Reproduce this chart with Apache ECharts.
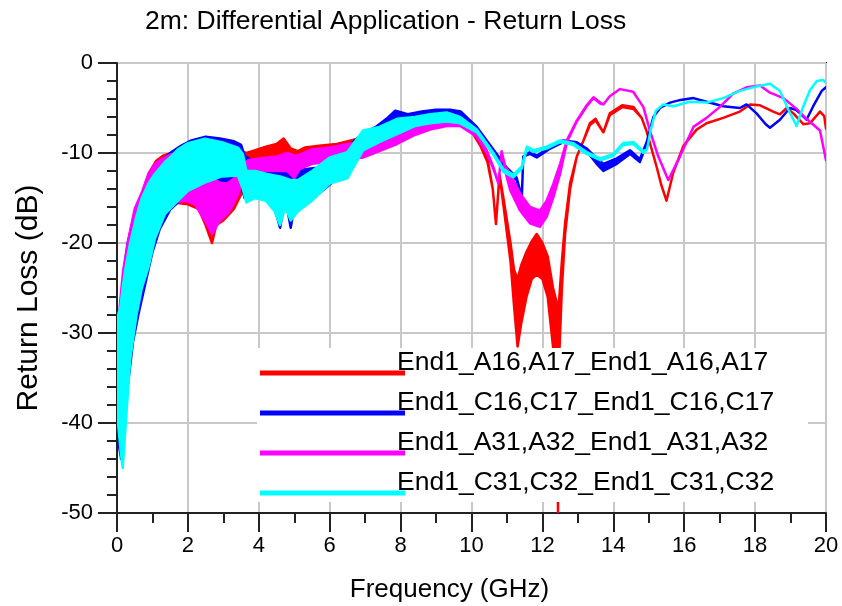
<!DOCTYPE html>
<html><head><meta charset="utf-8">
<script src="https://cdn.jsdelivr.net/npm/echarts@6/dist/echarts.min.js"></script>
<style>html,body{margin:0;padding:0;background:#fff}#c{width:842px;height:606px}</style>
</head><body><div id="c"></div>
<script>
const chartTitle = '2m: Differential Application - Return Loss';
const xName = 'Frequency (GHz)';
const yName = 'Return Loss (dB)';
const seriesNames = ['End1_A16,A17_End1_A16,A17','End1_C16,C17_End1_C16,C17','End1_A31,A32_End1_A31,A32','End1_C31,C32_End1_C31,C32'];
const seriesColors = ['#ff0000','#0000ff','#ff00ff','#00ffff'];

// [frequency GHz, upper envelope dB, lower envelope dB]
const redA16 = [[0.03,-31,-40],[0.15,-25,-42],[0.3,-20.5,-33],[0.5,-16.6,-26],[0.7,-14.6,-23],[0.9,-12.2,-20],[1.1,-10.9,-18],[1.3,-10.3,-16.5],[1.6,-9.9,-15.5],[2.0,-9.5,-15.7],[2.3,-9.3,-16.2],[2.5,-9.2,-18],[2.68,-9.2,-20],[2.8,-9.3,-18],[3.0,-9.4,-17.5],[3.3,-9.6,-16.2],[3.5,-9.8,-14.6],[3.65,-10,-12.5],[3.9,-9.7,-12],[4.2,-9.3,-11.8],[4.5,-9.0,-11.8],[4.7,-8.4,-12.2],[4.9,-9.5,-12],[5.1,-9.8,-12.8],[5.3,-9.4,-11],[5.7,-9.2,-10.8],[6.2,-9.0,-10.6],[6.6,-8.6,-10.4],[7.0,-8.2,-9.8],[7.5,-7.6,-9.2],[8.0,-7.2,-8.6],[8.5,-6.6,-7.6],[9.0,-6.2,-7.0],[9.4,-6.0,-6.7],[9.8,-6.3,-6.9],[10.0,-7.1,-7.6],[10.25,-8.8,-9.2],[10.45,-10.6,-11],[10.6,-14,-14],[10.69,-17.9,-17.9],[10.79,-12.4,-12.4],[10.9,-15,-15.8],[11.1,-20,-22],[11.2,-23,-27],[11.3,-24,-31.5],[11.4,-22.5,-29],[11.55,-21,-26],[11.7,-19.8,-24],[11.84,-19,-23.5],[12.0,-20,-24],[12.15,-21.5,-26],[12.3,-25,-31.5],[12.43,-27,-36],[12.44,-28,-50],[12.46,-27,-34],[12.55,-22,-25],[12.64,-17.8,-19],[12.78,-13.4,-14],[12.97,-10.4,-10.4],[13.16,-8.6,-8.6],[13.34,-6.7,-6.9],[13.5,-6.2,-6.4],[13.72,-7.7,-7.7],[13.9,-5.6,-5.8],[14.25,-4.7,-4.9],[14.57,-4.9,-5.1],[14.8,-6.1,-6.1],[14.94,-7.6,-7.6],[15.22,-11.5,-11.5],[15.35,-13.5,-13.5],[15.5,-15.3,-15.3],[15.69,-12.2,-12.2],[15.98,-9.2,-9.2],[16.35,-7.4,-7.4],[16.63,-6.7,-6.7],[17.1,-6.1,-6.1],[17.57,-5.4,-5.4],[17.86,-4.6,-4.6],[18.14,-4.7,-4.7],[18.51,-5.4,-5.4],[18.7,-5.7,-5.7],[18.89,-5.0,-5.0],[19.08,-5.6,-5.6],[19.36,-6.8,-6.8],[19.55,-6.7,-6.7],[19.83,-5.4,-5.4],[19.95,-5.9,-5.9],[20.0,-7.3,-7.3]];

const blueC16 = [[0.03,-30,-42],[0.12,-28,-44],[0.2,-23,-40],[0.3,-20,-36],[0.45,-17.5,-31],[0.6,-15.8,-28],[0.8,-13.8,-24.5],[1.0,-12.2,-21],[1.2,-11,-18.5],[1.5,-10,-16.3],[1.8,-9.2,-15.2],[2.1,-8.6,-14.4],[2.5,-8.2,-13.7],[2.9,-8.4,-13.2],[3.3,-8.7,-13],[3.5,-9.1,-13.6],[3.6,-10.3,-15],[3.8,-10.8,-14.5],[4.1,-10.8,-14.5],[4.4,-11,-15.5],[4.6,-11.2,-18.3],[4.75,-11.5,-15],[4.9,-11.3,-18.3],[5.05,-11.6,-15],[5.3,-11.8,-15.3],[5.7,-11.6,-14.5],[6.0,-11.2,-13.5],[6.3,-10,-12.5],[6.6,-9,-11.5],[6.9,-7.9,-9.8],[7.3,-7.1,-8.6],[7.6,-6.2,-7.6],[7.85,-5.3,-7.2],[8.2,-5.7,-6.6],[8.6,-5.4,-6.2],[9.0,-5.2,-5.9],[9.4,-5.2,-5.8],[9.7,-5.4,-6.0],[10.15,-7.1,-7.5],[10.43,-8.6,-8.9],[10.71,-10.1,-10.4],[10.99,-11.6,-11.9],[11.27,-12.7,-13],[11.42,-14.9,-14.9],[11.46,-10.4,-10.4],[11.65,-9.9,-10.1],[11.84,-10.3,-10.5],[12.22,-9.3,-9.5],[12.59,-8.6,-8.8],[12.97,-8.8,-9.0],[13.25,-9.5,-9.8],[13.53,-10.6,-11.2],[13.72,-11.2,-12],[14.1,-10.6,-11.2],[14.47,-9.7,-10.1],[14.75,-10.7,-11.0],[14.94,-8.8,-9.0],[15.13,-6,-6],[15.32,-5,-5],[15.6,-4.4,-4.4],[15.9,-4.1,-4.1],[16.26,-3.9,-3.9],[16.63,-4.3,-4.3],[17.1,-4.8,-4.8],[17.57,-5.0,-5.0],[17.76,-4.6,-4.6],[18.04,-5.6,-5.6],[18.3,-6.8,-6.8],[18.42,-7.2,-7.2],[18.7,-6.3,-6.3],[18.98,-5.0,-5.0],[19.15,-5.2,-5.2],[19.27,-5.6,-5.6],[19.45,-6.3,-6.3],[19.64,-4.8,-4.8],[19.88,-3.1,-3.1],[20.0,-2.7,-2.7]];

const magentaA31 = [[0.03,-29,-40],[0.17,-23.2,-43],[0.31,-19.8,-35],[0.5,-16.2,-28],[0.7,-14.4,-24],[0.88,-12.4,-21.5],[1.07,-11.2,-18.5],[1.3,-10.6,-16.5],[1.55,-10.1,-15.5],[1.92,-10,-15.3],[2.2,-10.2,-15.7],[2.48,-11,-17.5],[2.68,-12.8,-19],[2.9,-13.3,-17.5],[3.1,-13.4,-16.8],[3.24,-13,-16],[3.41,-12.5,-14.6],[3.55,-11.3,-13],[3.7,-10.8,-12.3],[4.0,-10.6,-12],[4.5,-10.4,-12],[4.8,-10,-12],[5.0,-10.3,-12.8],[5.15,-10.2,-11.8],[5.5,-9.6,-11.2],[6.0,-9.4,-11],[6.5,-9.0,-10.7],[6.94,-8.8,-10.5],[7.4,-8.2,-9.8],[7.9,-7.3,-9.0],[8.4,-6.6,-8.0],[8.83,-6.2,-7.4],[9.3,-6.0,-7.0],[9.68,-6.3,-7.0],[10.15,-7.8,-8.2],[10.43,-9.7,-10],[10.62,-11.6,-11.8],[10.76,-13.4,-13.4],[10.85,-9.8,-9.8],[10.95,-11.5,-12],[11.09,-12.3,-14.1],[11.37,-14.5,-16.4],[11.65,-16,-17.8],[11.93,-16.4,-18.2],[12.12,-15.3,-17.1],[12.31,-13.4,-14.9],[12.5,-11.2,-12.3],[12.69,-8.6,-8.8],[12.97,-6.4,-6.5],[13.25,-4.7,-4.8],[13.44,-3.8,-3.9],[13.63,-4.4,-4.5],[13.72,-4.6,-4.6],[13.9,-3.7,-3.7],[14.19,-2.9,-2.9],[14.56,-3.2,-3.2],[14.85,-4.9,-4.9],[15.03,-7.5,-7.5],[15.27,-10.4,-10.4],[15.55,-13,-13],[15.88,-10.4,-10.4],[16.26,-7.1,-7.1],[16.63,-6.1,-6.1],[17.0,-4.9,-4.9],[17.38,-3.4,-3.4],[17.76,-2.7,-2.7],[18.14,-2.5,-2.5],[18.42,-3.3,-3.3],[18.8,-3.9,-3.9],[19.17,-5.1,-5.1],[19.45,-6.2,-6.2],[19.83,-7.5,-7.5],[20.0,-10.8,-10.8]];

const cyanC31 = [[0.03,-28,-40],[0.1,-27,-43],[0.16,-25,-45],[0.23,-23,-41],[0.37,-20,-33],[0.55,-17,-28],[0.7,-15,-25],[0.9,-13.3,-22.5],[1.07,-12.3,-19.5],[1.35,-11,-16.8],[1.55,-10.3,-16],[1.72,-9.6,-15.3],[2.0,-8.9,-14.2],[2.48,-8.4,-13.3],[2.96,-8.8,-12.6],[3.41,-9.4,-12.5],[3.55,-10.1,-14],[3.65,-12,-15.5],[3.9,-12,-15],[4.2,-12.3,-15.3],[4.45,-12.5,-16.5],[4.6,-12.6,-18],[4.75,-12.8,-16],[4.9,-13,-17.5],[5.1,-13,-16.5],[5.5,-12,-15.3],[6.0,-10.5,-13.4],[6.5,-9.9,-12.8],[6.94,-7.5,-9.7],[7.4,-7.1,-8.8],[7.9,-6.2,-7.9],[8.4,-6.0,-7.0],[8.83,-5.7,-6.7],[9.3,-5.5,-6.5],[9.68,-6.0,-6.7],[10.15,-7.4,-7.7],[10.62,-10.0,-10.2],[10.9,-11.8,-12.1],[11.18,-12.4,-12.7],[11.42,-11.5,-11.7],[11.56,-9.3,-9.5],[11.75,-9.7,-9.9],[12.12,-9.3,-9.5],[12.5,-8.6,-8.8],[12.87,-8.9,-9.1],[13.25,-9.9,-10.1],[13.63,-10.6,-10.8],[14.0,-10.1,-10.3],[14.28,-8.9,-9.1],[14.57,-8.8,-9.0],[14.85,-9.8,-10],[14.95,-9.6,-9.6],[15.05,-7.5,-7.5],[15.2,-5.3,-5.3],[15.41,-4.6,-4.6],[15.69,-4.8,-4.8],[16.16,-4.3,-4.3],[16.63,-4.4,-4.4],[17.1,-3.9,-3.9],[17.57,-3.1,-3.1],[18.04,-2.6,-2.6],[18.42,-2.3,-2.3],[18.7,-3.1,-3.1],[18.94,-5.2,-5.2],[19.17,-7.0,-7.0],[19.36,-4.8,-4.8],[19.55,-3.0,-3.0],[19.74,-2.0,-2.0],[19.92,-1.9,-1.9],[20.0,-2.2,-2.2]];

const bands = [redA16, blueC16, magentaA31, cyanC31];
const font = 'Liberation Sans, Arial, Helvetica, sans-serif';

// each trace is drawn as a ribbon between its upper and lower envelope
function ribbonRenderer(band, color) {
  return function (params, api) {
    const pts = [];
    for (let k = 0; k < band.length; k++) pts.push(api.coord([band[k][0], band[k][1]]));
    for (let k = band.length - 1; k >= 0; k--) pts.push(api.coord([band[k][0], band[k][2]]));
    return {
      type: 'polygon',
      shape: { points: pts },
      style: { fill: color, stroke: color, lineWidth: 2.5, lineJoin: 'round' }
    };
  };
}

const series = bands.map(function (band, i) {
  return {
    type: 'custom', name: seriesNames[i], clip: true, silent: true, animation: false,
    data: [[band[0][0], band[0][1]]], encode: { x: 0, y: 1 },
    renderItem: ribbonRenderer(band, seriesColors[i]), z: 2
  };
});

// legend (drawn on a white panel over the plot)
const legendEls = [{ type: 'rect', shape: { x: 257, y: 348, width: 551, height: 154 }, style: { fill: '#fff' }, z: 50 }];
seriesNames.forEach(function (n, i) {
  const yLine = 373 + i * 40;
  legendEls.push({ type: 'rect', shape: { x: 260, y: yLine - 2.5, width: 145, height: 5 }, style: { fill: seriesColors[i] }, z: 51 });
  legendEls.push({ type: 'text', x: 397, y: yLine - 10, style: { text: n, fill: '#000', font: '26.5px ' + font, textVerticalAlign: 'middle', textAlign: 'left' }, z: 52 });
});

const axisCommon = {
  axisLine: { show: true, onZero: false, lineStyle: { color: '#222', width: 2 } },
  axisTick: { show: true, inside: false, length: 19, lineStyle: { color: '#222', width: 2 } },
  splitLine: { show: true, lineStyle: { color: '#c8c8c8', width: 2 } },
  axisLabel: { color: '#000', fontSize: 22, fontFamily: font }
};

const option = {
  backgroundColor: '#fff',
  animation: false,
  textStyle: { fontFamily: font },
  title: { text: chartTitle, left: 140, top: 3, textStyle: { fontSize: 26.5, fontWeight: 'normal', color: '#000', fontFamily: font } },
  grid: { left: 117, right: 16, top: 63, bottom: 93, show: true, borderColor: '#222', borderWidth: 2, backgroundColor: 'transparent', containLabel: false, outerBoundsMode: 'none' },
  xAxis: Object.assign({}, axisCommon, {
    type: 'value', min: 0, max: 20, interval: 2,
    minorTick: { show: true, splitNumber: 2, length: 10, lineStyle: { color: '#222', width: 2 } },
    axisLabel: Object.assign({}, axisCommon.axisLabel, { margin: 22 }),
    name: xName, nameLocation: 'middle', nameGap: 64,
    nameTextStyle: { fontSize: 26, color: '#000', fontFamily: font, padding: [0, 44, 0, 0] }
  }),
  yAxis: Object.assign({}, axisCommon, {
    type: 'value', min: -50, max: 0, interval: 10,
    minorTick: { show: true, splitNumber: 5, length: 10, lineStyle: { color: '#222', width: 2 } },
    axisLabel: Object.assign({}, axisCommon.axisLabel, { margin: 24 }),
    name: yName, nameLocation: 'middle', nameGap: 73,
    nameTextStyle: { fontSize: 30, color: '#000', fontFamily: font, padding: [0, 20, 0, 0] }
  }),
  series: series,
  graphic: { elements: legendEls }
};

const chart = echarts.init(document.getElementById('c'), null, { renderer: 'canvas' });
chart.setOption(option);
</script>
</body></html>
